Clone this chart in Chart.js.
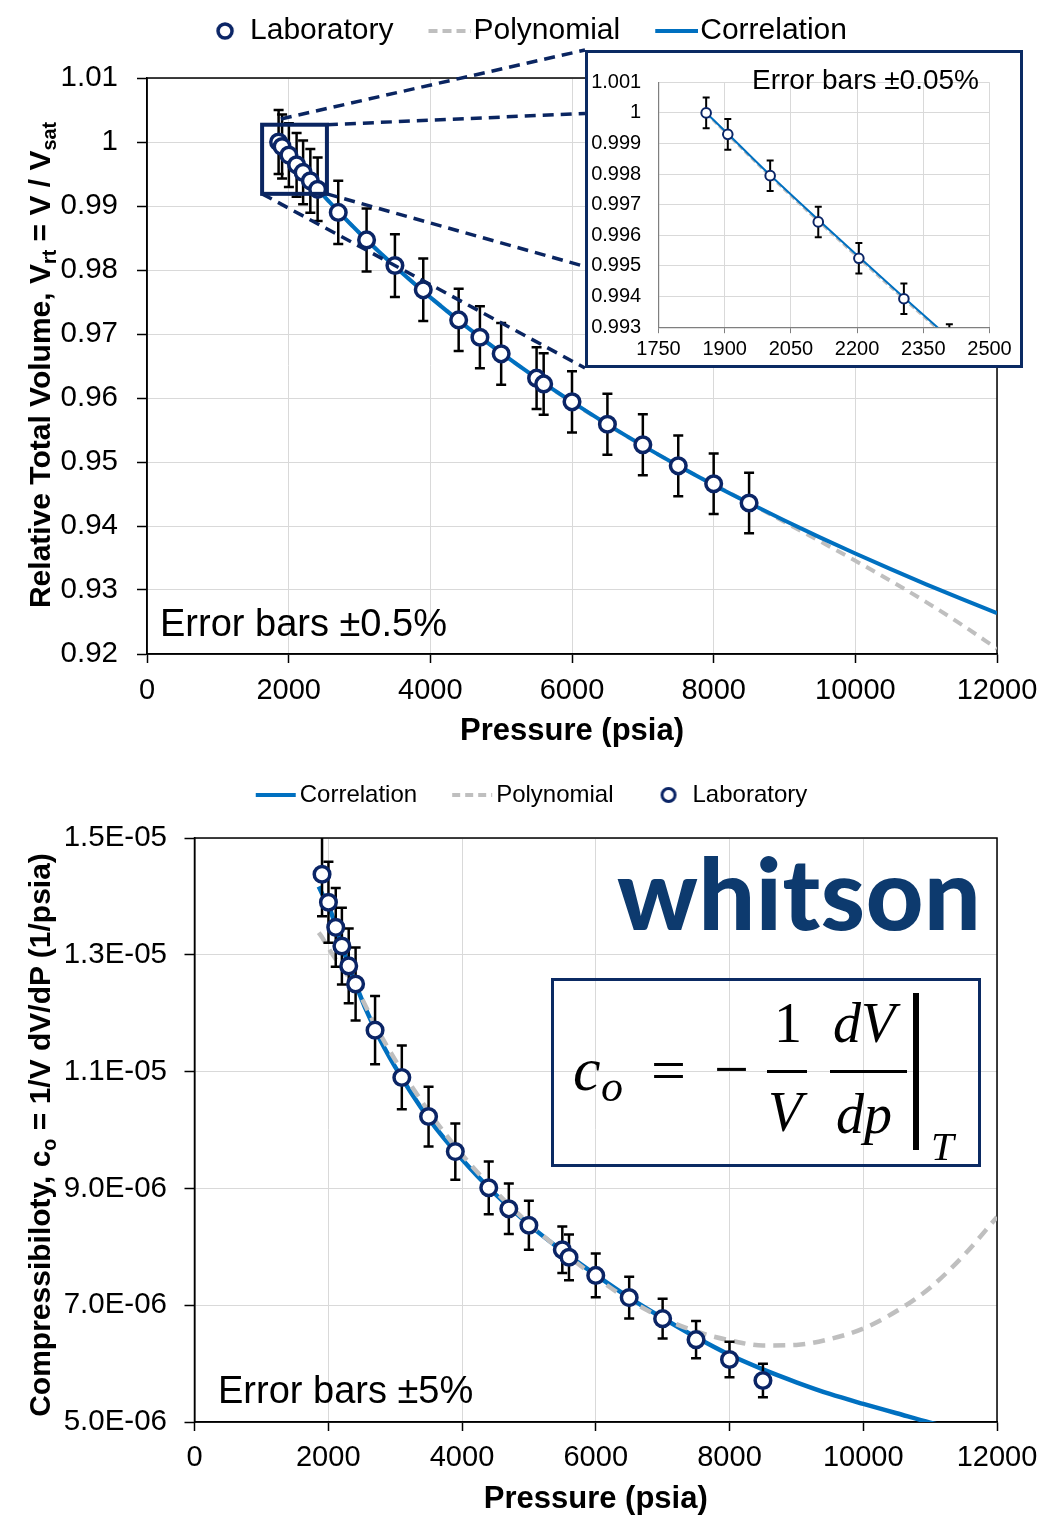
<!DOCTYPE html>
<html>
<head>
<meta charset="utf-8">
<script src="https://cdn.jsdelivr.net/npm/chart.js@4.4.1/dist/chart.umd.min.js"></script>
<style>
html,body{margin:0;padding:0;background:#fff;}
body{width:1058px;height:1536px;position:relative;overflow:hidden;font-family:'Liberation Sans',Arial,sans-serif;color:#000;}
canvas{display:block;}
#c1{position:absolute;left:0;top:0;width:1058px;height:760px;}
#c2{position:absolute;left:0;top:760px;width:1058px;height:776px;}
#insetBox{position:absolute;left:585px;top:50px;width:438px;height:318px;box-sizing:border-box;border:3.5px solid #0b2a63;background:#fff;}
#c3{position:absolute;left:0;top:0;width:431px;height:311px;}
.ytitle{position:absolute;font-weight:bold;font-size:30px;white-space:nowrap;transform:translate(-50%,-50%) rotate(-90deg);line-height:1;}
.ytitle sub{font-size:0.66em;vertical-align:-0.28em;line-height:0;}
.note{position:absolute;white-space:nowrap;line-height:1;font-family:'Liberation Sans',Arial,sans-serif;}
#logo{position:absolute;left:617px;top:841px;font-family:Lato,'Open Sans',sans-serif;font-weight:900;font-size:100px;line-height:1;color:#0d3a6e;white-space:nowrap;letter-spacing:0.6px;}
#fbox{position:absolute;left:551px;top:978px;width:430px;height:189px;box-sizing:border-box;border:3px solid #0b2a63;}
.m{position:absolute;font-family:'Liberation Serif','DejaVu Serif',serif;font-style:italic;line-height:1;white-space:nowrap;}
.mu{font-style:normal;}
.fbar{position:absolute;background:#000;}
</style>
</head>
<body>
<canvas id="c1" width="1058" height="760"></canvas>
<canvas id="c2" width="1058" height="776"></canvas>
<div id="insetBox"><canvas id="c3" width="431" height="311"></canvas></div>

<div class="ytitle" style="left:40px;top:365px;">Relative Total Volume, V<sub>rt</sub> = V / V<sub>sat</sub></div>
<div class="ytitle" style="left:40px;top:1135px;">Compressibiloty, c<sub>o</sub> = 1/V dV/dP (1/psia)</div>

<div class="note" style="left:160px;top:604px;font-size:38px;">Error bars ±0.5%</div>
<div class="note" style="left:752px;top:66px;font-size:28px;">Error bars ±0.05%</div>
<div class="note" style="left:218px;top:1371px;font-size:38px;">Error bars ±5%</div>

<div id="logo">whitson</div>
<div id="fbox"></div>
<span class="m" style="left:573px;top:1038px;font-size:62px;">c</span>
<span class="m" style="left:601px;top:1065px;font-size:44px;">o</span>
<span class="m mu" style="left:651px;top:1039px;font-size:62px;">=</span>
<span class="m mu" style="left:714px;top:1038px;font-size:62px;">−</span>
<span class="m mu" style="left:774px;top:995px;font-size:56px;">1</span>
<div class="fbar" style="left:767px;top:1070px;width:40px;height:3px;"></div>
<span class="m" style="left:768px;top:1084px;font-size:56px;">V</span>
<span class="m" style="left:833px;top:995px;font-size:56px;">dV</span>
<div class="fbar" style="left:830px;top:1070px;width:77px;height:3px;"></div>
<span class="m" style="left:836px;top:1086px;font-size:56px;">dp</span>
<div class="fbar" style="left:913px;top:993px;width:6px;height:157px;"></div>
<span class="m" style="left:931px;top:1126px;font-size:41px;">T</span>

<script>
// ---------------- DATA ----------------
const labPressure = [1858,1907,2003,2112,2204,2306,2409,2700,3100,3500,3900,4400,4700,5000,5500,5600,6000,6500,7000,7500,8000,8500];
const labVrt      = [1.0000,0.9993,0.99795,0.99644,0.99525,0.99393,0.9926,0.9890,0.9847,0.9807,0.9769,0.9722,0.9695,0.9669,0.9631,0.9622,0.9594,0.9559,0.9527,0.9494,0.9466,0.9436];

const labCoPressure = [1907,2003,2112,2204,2306,2409,2700,3100,3500,3900,4400,4700,5000,5500,5600,6000,6500,7000,7500,8000,8500];
const labCo = [14.38e-6,13.90e-6,13.47e-6,13.15e-6,12.81e-6,12.50e-6,11.71e-6,10.90e-6,10.23e-6,9.63e-6,9.01e-6,8.65e-6,8.37e-6,7.95e-6,7.82e-6,7.51e-6,7.13e-6,6.77e-6,6.41e-6,6.07e-6,5.71e-6];

const curvePressure = [1858,1907,2000,2200,2400,2700,3000,3500,4000,4500,5000,5500,6000,6500,7000,7500,8000,8500,9000,9500,10000,10500,11000,11500,12000];
const corrVrt = [1.0,0.99932,0.99801,0.99535,0.99277,0.98916,0.98578,0.98054,0.97572,0.97124,0.96705,0.96311,0.95939,0.95588,0.95256,0.94941,0.94642,0.94358,0.94085,0.93823,0.93570,0.93325,0.93089,0.92860,0.92638];
const polyVrt = [0.99998,0.99928,0.99797,0.99530,0.99272,0.98913,0.98577,0.98058,0.97578,0.97128,0.96706,0.96309,0.95935,0.95584,0.95254,0.94942,0.94645,0.94360,0.94062,0.93762,0.93457,0.93142,0.92811,0.92460,0.92082];
const corrCo = [14.17e-6,14.05e-6,13.86e-6,13.17e-6,12.52e-6,11.72e-6,11.08e-6,10.20e-6,9.50e-6,8.90e-6,8.38e-6,7.93e-6,7.52e-6,7.13e-6,6.78e-6,6.45e-6,6.15e-6,5.90e-6,5.68e-6,5.48e-6,5.31e-6,5.15e-6,4.99e-6,4.85e-6,4.72e-6];
const polyCo = [13.38e-6,13.30e-6,13.12e-6,12.78e-6,12.47e-6,11.80e-6,11.20e-6,10.32e-6,9.58e-6,8.95e-6,8.40e-6,7.92e-6,7.48e-6,7.09e-6,6.78e-6,6.55e-6,6.40e-6,6.31e-6,6.32e-6,6.42e-6,6.60e-6,6.90e-6,7.30e-6,7.85e-6,8.51e-6];

// tick values
const xTicksMain = [0,2000,4000,6000,8000,10000,12000];
const yTicksTop = [0.92,0.93,0.94,0.95,0.96,0.97,0.98,0.99,1.00,1.01];
const yTicksBottom = [5e-6,7e-6,9e-6,1.1e-5,1.3e-5,1.5e-5];
const xTicksInset = [1750,1900,2050,2200,2350,2500];
const yTicksInset = [0.993,0.994,0.995,0.996,0.997,0.998,0.999,1.000,1.001];

// zoom window shown in inset (data coordinates of main chart)
const zoomBoxX = [1625, 2540];
const zoomBoxY = [0.9919, 1.0027];

// ---------------- STYLE ----------------
const FONT = "'Liberation Sans', Arial, Helvetica, sans-serif";
const NAVY = '#0a2561';
const MARK = '#0b2566';
const BLUE = '#0070C0';
const GRAY = '#BFBFBF';
const GRID = '#D9D9D9';

const pts = (xs, ys) => xs.map((x,i)=>({x:x, y:ys[i]}));

function makeIcon(w,h,draw){const c=document.createElement('canvas');c.width=w;c.height=h;draw(c.getContext('2d'));return c;}
function circleIcon(w,h,cx,r,lw){return makeIcon(w,h,g=>{g.beginPath();g.arc(cx,h/2,r,0,Math.PI*2);g.fillStyle='#fff';g.fill();g.lineWidth=lw;g.strokeStyle=MARK;g.stroke();});}
function lineIcon(w,h,x0,x1,lw,color,dash){return makeIcon(w,h,g=>{g.setLineDash(dash||[]);g.lineWidth=lw;g.strokeStyle=color;g.beginPath();g.moveTo(x0,h/2);g.lineTo(x1,h/2);g.stroke();});}

// ---------------- PLUGINS ----------------
const errorBarPlugin = {
  id:'errorBars',
  beforeDatasetDraw(chart,args){
    const ds = chart.data.datasets[args.index];
    if(!ds.errorFrac) return;
    const xs=chart.scales.x, ys=chart.scales.y, a=chart.chartArea, ctx=chart.ctx;
    ctx.save();
    ctx.beginPath(); ctx.rect(a.left,a.top,a.right-a.left,a.bottom-a.top); ctx.clip();
    ctx.strokeStyle='#000'; ctx.lineWidth=ds.errorWidth; ctx.lineCap='butt';
    const cap=ds.errorCap;
    ds.data.forEach(p=>{
      const x=xs.getPixelForValue(p.x);
      const y1=ys.getPixelForValue(p.y*(1+ds.errorFrac));
      const y2=ys.getPixelForValue(p.y*(1-ds.errorFrac));
      ctx.beginPath();
      ctx.moveTo(x,y1);ctx.lineTo(x,y2);
      ctx.moveTo(x-cap,y1);ctx.lineTo(x+cap,y1);
      ctx.moveTo(x-cap,y2);ctx.lineTo(x+cap,y2);
      ctx.stroke();
    });
    ctx.restore();
  }
};
const framePlugin = {
  id:'frame',
  beforeDatasetsDraw(chart,args,opts){
    if(!opts || !opts.show) return;
    const a=chart.chartArea, ctx=chart.ctx;
    ctx.save(); ctx.strokeStyle='#000'; ctx.lineWidth=1.5;
    ctx.strokeRect(a.left,a.top,a.right-a.left,a.bottom-a.top);
    ctx.restore();
  }
};
const legendHeightPlugin = {
  id:'legendHeight',
  afterInit(chart,args,opts){
    const lg=chart.legend; if(!lg||!opts||!opts.height) return;
    const f=lg.fit; lg.fit=function(){f.call(this); this.height=opts.height;};
  }
};

function legendCfg(size, pad, boxW, icons){
  return {
    display:true, position:'top', align:'center',
    labels:{
      usePointStyle:true, pointStyleWidth:boxW, padding:pad, color:'#000',
      font:{size:size, family:FONT},
      sort:(a,b)=>a.datasetIndex-b.datasetIndex,
      generateLabels:(chart)=>chart.data.datasets.map((ds,i)=>({
        text:ds.label, pointStyle:icons[i], datasetIndex:i, hidden:false,
        fillStyle:'rgba(0,0,0,0)', strokeStyle:'rgba(0,0,0,0)', lineWidth:0, fontColor:'#000'
      }))
    }
  };
}

// ---------------- INSET CHART ----------------
const insetChart = new Chart(document.getElementById('c3'), {
  type:'scatter',
  data:{datasets:[
    {label:'Laboratory', data:pts(labPressure,labVrt), pointRadius:4.8, pointBorderWidth:2, pointBackgroundColor:'#fff', pointBorderColor:MARK, pointHoverRadius:4.8, clip:0, order:0, errorFrac:0.0005, errorWidth:2, errorCap:3.5},
    {label:'Polynomial', data:pts(curvePressure,polyVrt), showLine:true, borderColor:GRAY, borderWidth:2.5, borderDash:[6,3], pointRadius:0, pointHoverRadius:0, cubicInterpolationMode:'monotone', clip:0, order:2},
    {label:'Correlation', data:pts(curvePressure,corrVrt), showLine:true, borderColor:BLUE, borderWidth:2, pointRadius:0, pointHoverRadius:0, cubicInterpolationMode:'monotone', clip:0, order:1}
  ]},
  options:{
    responsive:false, animation:false, devicePixelRatio:1,
    layout:{padding:{left:0,right:29.5,top:13.2,bottom:0}},
    plugins:{legend:{display:false}, tooltip:{enabled:false}},
    scales:{
      x:{type:'linear', min:1750, max:2500,
        afterBuildTicks:s=>{s.ticks=xTicksInset.map(v=>({value:v}));},
        afterFit:s=>{s.height=36.8;},
        ticks:{font:{size:20,family:FONT}, color:'#000', padding:4.3, maxRotation:0, autoSkip:false, callback:v=>String(v)},
        grid:{color:GRID, lineWidth:1, drawTicks:true, tickLength:6, tickColor:'#7f7f7f', tickWidth:1},
        border:{color:'#7f7f7f', width:1.2}
      },
      y:{type:'linear', min:0.993, max:1.001,
        afterBuildTicks:s=>{s.ticks=yTicksInset.map(v=>({value:v}));},
        afterFit:s=>{s.width=70.5;},
        ticks:{font:{size:20,family:FONT}, color:'#000', padding:17.3, autoSkip:false, callback:v=>String(+v.toFixed(3))},
        grid:{color:GRID, lineWidth:1, drawTicks:false},
        border:{color:'#7f7f7f', width:1.2}
      }
    }
  },
  plugins:[errorBarPlugin]
});

// ---------------- TOP CHART ----------------
const zoomPlugin = {
  id:'zoomLines',
  afterDatasetsDraw(chart){
    const xs=chart.scales.x, ys=chart.scales.y, ctx=chart.ctx;
    const bx0=xs.getPixelForValue(zoomBoxX[0]), bx1=xs.getPixelForValue(zoomBoxX[1]);
    const by0=ys.getPixelForValue(zoomBoxY[1]), by1=ys.getPixelForValue(zoomBoxY[0]);
    const box=document.getElementById('insetBox');
    const L=box.offsetLeft, T=box.offsetTop, B=T+box.offsetHeight;
    const innerTop=T+3.5;
    const iy=insetChart.scales.y;
    const t1=innerTop+iy.getPixelForValue(1.000);
    const t2=innerTop+iy.getPixelForValue(0.995);
    const lines=[
      [xs.getPixelForValue(1890), ys.getPixelForValue(1.0036), L, T],
      [bx1, by0, L, t1],
      [bx1, by1, L, t2],
      [bx0, by1, L, B]
    ];
    ctx.save();
    ctx.strokeStyle=NAVY; ctx.lineWidth=3.5; ctx.setLineDash([11,7]);
    lines.forEach(l=>{ctx.beginPath();ctx.moveTo(l[0],l[1]);ctx.lineTo(l[2],l[3]);ctx.stroke();});
    ctx.setLineDash([]); ctx.lineWidth=4;
    ctx.strokeRect(bx0,by0,bx1-bx0,by1-by0);
    ctx.restore();
  }
};

const topIcons=[circleIcon(70,20,47,7,3.5), lineIcon(70,20,27,70,4,GRAY,[9,5]), lineIcon(70,20,27,70,4,BLUE)];

new Chart(document.getElementById('c1'), {
  type:'scatter',
  data:{datasets:[
    {label:'Laboratory', data:pts(labPressure,labVrt), pointRadius:7.8, pointBorderWidth:3.5, pointBackgroundColor:'#fff', pointBorderColor:MARK, pointHoverRadius:7.8, order:0, errorFrac:0.005, errorWidth:2.5, errorCap:5},
    {label:'Polynomial', data:pts(curvePressure,polyVrt), showLine:true, borderColor:GRAY, borderWidth:4, borderDash:[10,7], pointRadius:0, pointHoverRadius:0, cubicInterpolationMode:'monotone', clip:0, order:2},
    {label:'Correlation', data:pts(curvePressure,corrVrt), showLine:true, borderColor:BLUE, borderWidth:4, pointRadius:0, pointHoverRadius:0, cubicInterpolationMode:'monotone', clip:0, order:1}
  ]},
  options:{
    responsive:false, animation:false, devicePixelRatio:1,
    layout:{padding:{left:41,right:61,top:-5,bottom:0}},
    plugins:{legend:legendCfg(30,21,44,topIcons), tooltip:{enabled:false}, legendHeight:{height:83}, frame:{show:true}},
    scales:{
      x:{type:'linear', min:0, max:12000,
        afterBuildTicks:s=>{s.ticks=xTicksMain.map(v=>({value:v}));},
        afterFit:s=>{s.height=106;},
        ticks:{font:{size:29,family:FONT}, color:'#000', padding:10.6, maxRotation:0, autoSkip:false, callback:v=>String(v)},
        grid:{color:GRID, lineWidth:1, drawTicks:true, tickLength:9, tickColor:'#000', tickWidth:1.5},
        border:{color:'#000', width:1.5},
        title:{display:true, text:'Pressure (psia)', color:'#000', font:{size:31, weight:'bold', family:FONT}, padding:{top:0,bottom:10.4}}
      },
      y:{type:'linear', min:0.92, max:1.01,
        afterBuildTicks:s=>{s.ticks=yTicksTop.map(v=>({value:v}));},
        afterFit:s=>{s.width=106;},
        ticks:{font:{size:29.5,family:FONT}, color:'#000', padding:19, autoSkip:false, callback:v=>String(+v.toFixed(3))},
        grid:{color:GRID, lineWidth:1, drawTicks:true, tickLength:10, tickColor:'#000', tickWidth:1.5},
        border:{color:'#000', width:1.5}
      }
    }
  },
  plugins:[errorBarPlugin, framePlugin, legendHeightPlugin, zoomPlugin]
});

// ---------------- BOTTOM CHART ----------------
function sci(v){
  const e=Math.floor(Math.log10(v)+1e-9);
  const m=v/Math.pow(10,e);
  return m.toFixed(1)+'E'+(e<0?'-':'+')+String(Math.abs(e)).padStart(2,'0');
}
const botIcons=[lineIcon(64,20,20,60,4,BLUE), lineIcon(64,20,20,60,4,GRAY,[8,5]), circleIcon(64,20,40,6.5,3)];

new Chart(document.getElementById('c2'), {
  type:'scatter',
  data:{datasets:[
    {label:'Correlation', data:pts(curvePressure,corrCo), showLine:true, borderColor:BLUE, borderWidth:4.5, pointRadius:0, pointHoverRadius:0, cubicInterpolationMode:'monotone', clip:0, order:2},
    {label:'Polynomial', data:pts(curvePressure,polyCo), showLine:true, borderColor:GRAY, borderWidth:4.5, borderDash:[12,8], pointRadius:0, pointHoverRadius:0, cubicInterpolationMode:'monotone', clip:0, order:1},
    {label:'Laboratory', data:pts(labCoPressure,labCo), pointRadius:7.8, pointBorderWidth:3.5, pointBackgroundColor:'#fff', pointBorderColor:MARK, pointHoverRadius:7.8, order:0, errorFrac:0.05, errorWidth:2.5, errorCap:5}
  ]},
  options:{
    responsive:false, animation:false, devicePixelRatio:1,
    layout:{padding:{left:58,right:61,top:-4,bottom:0}},
    plugins:{legend:legendCfg(24,27,40,botIcons), tooltip:{enabled:false}, legendHeight:{height:82}, frame:{show:true}},
    scales:{
      x:{type:'linear', min:0, max:12000,
        afterBuildTicks:s=>{s.ticks=xTicksMain.map(v=>({value:v}));},
        afterFit:s=>{s.height=114;},
        ticks:{font:{size:29,family:FONT}, color:'#000', padding:9.6, maxRotation:0, autoSkip:false, callback:v=>String(v)},
        grid:{color:GRID, lineWidth:1, drawTicks:true, tickLength:9, tickColor:'#000', tickWidth:1.5},
        border:{color:'#000', width:1.5},
        title:{display:true, text:'Pressure (psia)', color:'#000', font:{size:31, weight:'bold', family:FONT}, padding:{top:0,bottom:18.4}}
      },
      y:{type:'linear', min:5e-6, max:1.5e-5,
        afterBuildTicks:s=>{s.ticks=yTicksBottom.map(v=>({value:v}));},
        afterFit:s=>{s.width=136.5;},
        ticks:{font:{size:29.5,family:FONT}, color:'#000', padding:17.5, autoSkip:false, callback:v=>sci(v)},
        grid:{color:GRID, lineWidth:1, drawTicks:true, tickLength:10, tickColor:'#000', tickWidth:1.5},
        border:{color:'#000', width:1.5}
      }
    }
  },
  plugins:[errorBarPlugin, framePlugin, legendHeightPlugin]
});
</script>
</body>
</html>
